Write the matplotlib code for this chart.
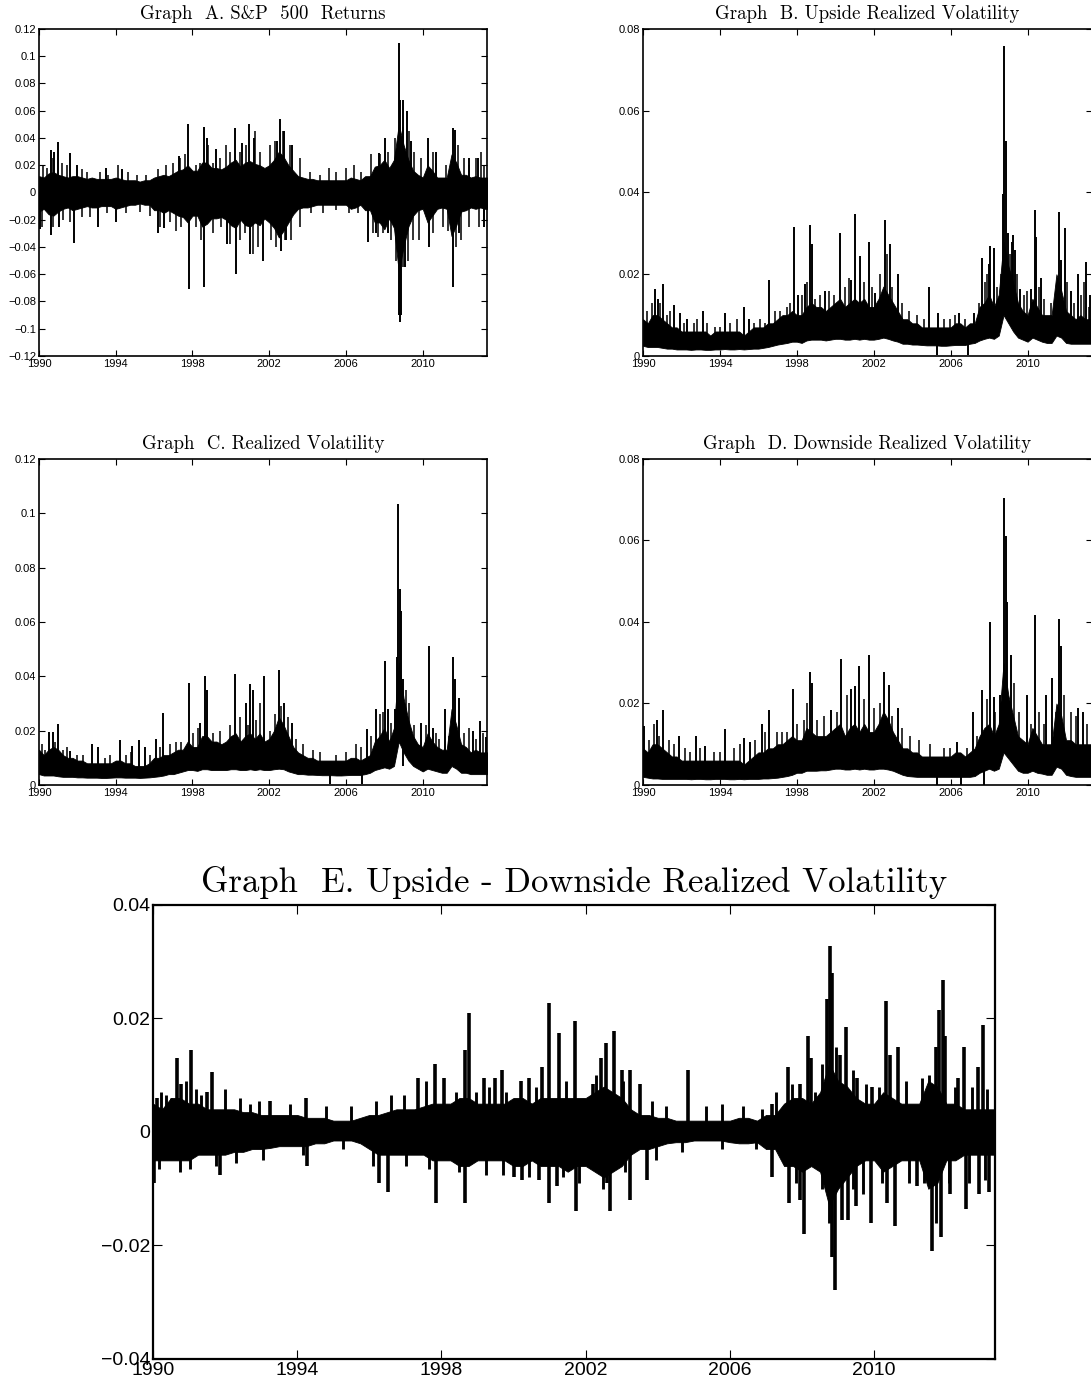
import numpy as np
import matplotlib
matplotlib.use("Agg")
import matplotlib.pyplot as plt
from matplotlib.ticker import FuncFormatter

# quarterly grid, 1990Q1 .. 2013Q3
quarters = np.arange(1990.0, 2013.51, 0.25)

# ---- Graph A: S&P 500 daily returns (dense band envelope + isolated spikes)
ret_hi = [0.012, 0.011, 0.014, 0.015, 0.013, 0.012, 0.011, 0.012,
          0.012, 0.011, 0.010, 0.011, 0.010, 0.010, 0.010, 0.010,
          0.011, 0.010, 0.009, 0.009, 0.009, 0.008, 0.009, 0.009,
          0.011, 0.012, 0.013, 0.012, 0.014, 0.016, 0.017, 0.020,
          0.016, 0.016, 0.022, 0.022, 0.018, 0.018, 0.017, 0.019,
          0.022, 0.024, 0.019, 0.022, 0.023, 0.021, 0.020, 0.018,
          0.020, 0.024, 0.030, 0.026, 0.020, 0.016, 0.012, 0.011,
          0.010, 0.010, 0.009, 0.009, 0.009, 0.009, 0.009, 0.009,
          0.009, 0.011, 0.010, 0.009, 0.012, 0.012, 0.019, 0.020,
          0.024, 0.018, 0.024, 0.050, 0.035, 0.024, 0.016, 0.013,
          0.011, 0.020, 0.016, 0.011, 0.011, 0.011, 0.028, 0.022,
          0.013, 0.013, 0.011, 0.012, 0.011, 0.011, 0.011]
ret_lo = [-0.014, -0.012, -0.016, -0.017, -0.014, -0.012, -0.011, -0.013,
          -0.012, -0.011, -0.010, -0.011, -0.011, -0.010, -0.010, -0.010,
          -0.012, -0.011, -0.010, -0.009, -0.009, -0.008, -0.009, -0.009,
          -0.013, -0.013, -0.015, -0.013, -0.015, -0.017, -0.018, -0.022,
          -0.017, -0.017, -0.025, -0.023, -0.019, -0.019, -0.018, -0.020,
          -0.024, -0.026, -0.020, -0.024, -0.025, -0.022, -0.024, -0.019,
          -0.022, -0.026, -0.033, -0.028, -0.022, -0.016, -0.012, -0.011,
          -0.011, -0.010, -0.009, -0.009, -0.009, -0.009, -0.009, -0.009,
          -0.009, -0.012, -0.011, -0.009, -0.013, -0.013, -0.022, -0.022,
          -0.027, -0.019, -0.026, -0.058, -0.040, -0.025, -0.017, -0.013,
          -0.012, -0.022, -0.017, -0.012, -0.011, -0.012, -0.032, -0.024,
          -0.014, -0.013, -0.011, -0.012, -0.011, -0.012, -0.012]
ret_spikes = [(1990.05, -0.027), (1990.60, 0.031), (1990.65, -0.031), (1990.80, 0.030),
              (1991.00, 0.037), (1991.05, -0.025), (1991.60, 0.029), (1991.85, -0.037),
              (1992.00, 0.020), (1993.10, -0.025), (1993.50, 0.018), (1994.00, -0.022),
              (1994.30, 0.017), (1996.20, -0.030), (1996.50, -0.026), (1997.30, 0.027),
              (1997.78, 0.050), (1997.80, -0.071), (1998.60, -0.069), (1998.62, 0.048),
              (1998.75, 0.040), (1999.20, 0.032), (1999.80, -0.038), (2000.20, 0.047),
              (2000.25, -0.060), (2000.60, 0.036), (2000.95, 0.050), (2001.00, -0.045),
              (2001.20, 0.040), (2001.70, -0.050), (2002.40, 0.038), (2002.55, 0.054),
              (2002.60, -0.043), (2002.75, 0.045), (2002.85, -0.035), (2003.20, 0.035),
              (2007.15, -0.036), (2007.55, -0.030), (2007.70, 0.029), (2008.05, 0.040),
              (2008.20, -0.030), (2008.60, 0.030), (2008.76, -0.090), (2008.78, 0.110),
              (2008.80, -0.095), (2008.84, 0.068), (2008.88, -0.090), (2008.95, 0.068),
              (2009.10, -0.055), (2009.20, 0.060), (2009.40, 0.038), (2010.30, 0.040),
              (2010.35, -0.040), (2010.70, 0.030), (2011.56, 0.047), (2011.58, -0.069),
              (2011.68, 0.046), (2011.90, -0.030), (2012.40, 0.025), (2012.90, 0.025),
              (2013.20, -0.025)]
ret_minor = [(1990.23, 0.020), (1990.40, 0.018), (1990.75, 0.025), (1991.18, 0.022),
             (1991.44, 0.020), (1992.22, 0.017), (1992.52, 0.015), (1993.17, 0.015),
             (1993.61, 0.013), (1994.13, 0.020), (1994.65, 0.015), (1995.09, 0.013),
             (1995.60, 0.013), (1996.21, 0.017), (1996.64, 0.020), (1996.99, 0.022),
             (1997.34, 0.025), (1997.60, 0.028), (1998.20, 0.020), (1998.38, 0.022),
             (1998.81, 0.035), (1999.07, 0.022), (1999.42, 0.025), (1999.77, 0.035),
             (1999.94, 0.030), (2000.46, 0.030), (2000.81, 0.035), (2001.24, 0.045),
             (2001.50, 0.030), (2002.02, 0.035), (2002.28, 0.038), (2002.71, 0.045),
             (2003.06, 0.035), (2003.58, 0.025), (2004.10, 0.015), (2004.62, 0.013),
             (2005.14, 0.018), (2005.49, 0.015), (2006.01, 0.018), (2006.44, 0.020),
             (2006.79, 0.015), (2007.31, 0.028), (2007.75, 0.028), (2008.18, 0.030),
             (2008.53, 0.040), (2008.96, 0.048), (2009.31, 0.045), (2009.57, 0.030),
             (2009.91, 0.025), (2010.52, 0.030), (2010.69, 0.022), (2011.21, 0.020),
             (2011.82, 0.035), (2012.17, 0.025), (2012.43, 0.020), (2012.78, 0.025),
             (2013.04, 0.030), (2013.21, 0.020),
             (1990.14, -0.025), (1990.75, -0.025), (1991.27, -0.020), (1991.61, -0.022),
             (1992.22, -0.018), (1992.65, -0.018), (1993.52, -0.015), (1994.56, -0.015),
             (1995.26, -0.014), (1995.78, -0.017), (1996.30, -0.025), (1996.82, -0.022),
             (1997.16, -0.028), (1997.42, -0.025), (1998.20, -0.025), (1998.46, -0.035),
             (1999.07, -0.030), (1999.51, -0.025), (1999.94, -0.038), (2000.46, -0.035),
             (2000.72, -0.030), (2001.15, -0.045), (2001.41, -0.040), (2002.11, -0.035),
             (2002.37, -0.040), (2002.80, -0.035), (2003.15, -0.035), (2003.58, -0.025),
             (2004.19, -0.015), (2004.80, -0.015), (2005.49, -0.013), (2006.18, -0.015),
             (2006.62, -0.015), (2007.40, -0.030), (2007.66, -0.033), (2007.92, -0.030),
             (2008.35, -0.035), (2008.61, -0.050), (2008.96, -0.055), (2009.22, -0.050),
             (2009.48, -0.035), (2009.83, -0.035), (2010.52, -0.030), (2011.04, -0.025),
             (2011.30, -0.028), (2011.73, -0.040), (2011.99, -0.035), (2012.43, -0.025),
             (2012.95, -0.025), (2013.21, -0.020)]

# ---- Graph B: upside realized volatility
up_hi = [0.009, 0.008, 0.010, 0.010, 0.009, 0.008, 0.007, 0.007,
         0.006, 0.006, 0.006, 0.006, 0.006, 0.006, 0.005, 0.006,
         0.006, 0.006, 0.006, 0.006, 0.006, 0.005, 0.006, 0.007,
         0.007, 0.007, 0.008, 0.008, 0.009, 0.010, 0.010, 0.011,
         0.010, 0.010, 0.012, 0.013, 0.012, 0.012, 0.011, 0.012,
         0.013, 0.014, 0.012, 0.013, 0.014, 0.013, 0.014, 0.012,
         0.012, 0.014, 0.017, 0.015, 0.013, 0.011, 0.009, 0.009,
         0.008, 0.008, 0.007, 0.007, 0.007, 0.007, 0.007, 0.007,
         0.007, 0.008, 0.008, 0.007, 0.008, 0.008, 0.012, 0.013,
         0.015, 0.012, 0.015, 0.028, 0.022, 0.018, 0.013, 0.011,
         0.010, 0.014, 0.012, 0.010, 0.010, 0.010, 0.020, 0.016,
         0.011, 0.010, 0.009, 0.010, 0.009, 0.009, 0.009]
up_lo = [0.0025, 0.0022, 0.0022, 0.0022, 0.0020, 0.0018, 0.0018, 0.0016,
         0.0016, 0.0016, 0.0015, 0.0016, 0.0016, 0.0015, 0.0015, 0.0016,
         0.0016, 0.0017, 0.0016, 0.0016, 0.0017, 0.0016, 0.0017, 0.0018,
         0.0018, 0.0020, 0.0022, 0.0025, 0.0028, 0.0030, 0.0032, 0.0035,
         0.0035, 0.0032, 0.0038, 0.0040, 0.0040, 0.0040, 0.0038, 0.0040,
         0.0042, 0.0042, 0.0040, 0.0040, 0.0042, 0.0040, 0.0042, 0.0040,
         0.0040, 0.0042, 0.0045, 0.0042, 0.0038, 0.0035, 0.0030, 0.0030,
         0.0028, 0.0028, 0.0027, 0.0026, 0.0026, 0.0026, 0.0025, 0.0025,
         0.0026, 0.0027, 0.0027, 0.0027, 0.0030, 0.0032, 0.0038, 0.0042,
         0.0045, 0.0042, 0.0050, 0.0100, 0.0080, 0.0060, 0.0045, 0.0040,
         0.0035, 0.0045, 0.0040, 0.0035, 0.0032, 0.0032, 0.0050, 0.0045,
         0.0032, 0.0030, 0.0030, 0.0030, 0.0030, 0.0030, 0.0030]
up_spikes = [(1990.64, 0.0165), (1990.78, 0.0140), (1991.04, 0.0175), (1991.63, 0.0125),
             (1991.91, 0.0105), (1992.29, 0.0090), (1993.12, 0.0110), (1994.25, 0.0105),
             (1995.24, 0.0120), (1995.52, 0.0090), (1996.54, 0.0185), (1997.84, 0.0315),
             (1998.05, 0.0150), (1998.45, 0.0175), (1998.71, 0.0320), (1998.79, 0.0275),
             (1999.49, 0.0160), (2000.27, 0.0300), (2000.82, 0.0185), (2001.05, 0.0348),
             (2001.27, 0.0245), (2001.74, 0.0278), (2002.09, 0.0155), (2002.58, 0.0333),
             (2002.82, 0.0275), (2003.25, 0.0200), (2004.87, 0.0170), (2005.33, 0.0105),
             (2006.43, 0.0105), (2007.21, 0.0105), (2007.64, 0.0240), (2007.99, 0.0225),
             (2008.07, 0.0270), (2008.25, 0.0265), (2008.73, 0.0397), (2008.79, 0.0758),
             (2008.87, 0.0525), (2008.98, 0.0300), (2009.17, 0.0280), (2009.22, 0.0296),
             (2009.32, 0.0260), (2009.62, 0.0165), (2010.16, 0.0165), (2010.38, 0.0357),
             (2010.45, 0.0290), (2010.71, 0.0190), (2011.63, 0.0353), (2011.75, 0.0235),
             (2011.93, 0.0314), (2012.24, 0.0160), (2012.64, 0.0200), (2013.05, 0.0230),
             (2013.23, 0.0150)]
up_minor = [(1990.21, 0.011), (1990.47, 0.013), (1990.90, 0.013), (1991.25, 0.010),
            (1991.42, 0.011), (1992.12, 0.008), (1992.64, 0.008), (1992.81, 0.009),
            (1993.33, 0.008), (1993.76, 0.007), (1994.02, 0.007), (1994.54, 0.008),
            (1994.89, 0.009), (1995.76, 0.008), (1996.11, 0.009), (1996.37, 0.008),
            (1996.89, 0.011), (1997.15, 0.011), (1997.49, 0.012), (1997.67, 0.013),
            (1998.27, 0.015), (1998.53, 0.018), (1998.97, 0.014), (1999.23, 0.015),
            (1999.66, 0.016), (1999.92, 0.015), (2000.53, 0.017), (2000.70, 0.019),
            (2001.48, 0.018), (2001.92, 0.017), (2002.35, 0.020), (2002.70, 0.025),
            (2002.96, 0.017), (2003.48, 0.013), (2003.82, 0.011), (2004.26, 0.010),
            (2004.61, 0.009), (2005.65, 0.009), (2005.99, 0.009), (2006.25, 0.010),
            (2006.77, 0.009), (2007.47, 0.013), (2007.81, 0.018), (2007.90, 0.020),
            (2008.42, 0.017), (2008.60, 0.020), (2009.08, 0.025), (2009.46, 0.020),
            (2009.81, 0.015), (2009.98, 0.016), (2010.59, 0.017), (2010.85, 0.014),
            (2011.20, 0.013), (2011.46, 0.015), (2012.06, 0.018), (2012.41, 0.013),
            (2012.76, 0.015), (2012.93, 0.018), (2013.19, 0.012)]
up_dips = [(2005.30, 0.0003), (2006.90, 0.0003)]

# ---- Graph C: realized volatility
rv_hi = [0.013, 0.011, 0.013, 0.014, 0.013, 0.011, 0.010, 0.010,
         0.009, 0.009, 0.008, 0.008, 0.008, 0.008, 0.008, 0.008,
         0.009, 0.009, 0.008, 0.008, 0.007, 0.007, 0.007, 0.008,
         0.010, 0.010, 0.011, 0.011, 0.012, 0.013, 0.013, 0.016,
         0.014, 0.014, 0.018, 0.018, 0.016, 0.016, 0.015, 0.016,
         0.018, 0.019, 0.016, 0.018, 0.019, 0.017, 0.019, 0.016,
         0.017, 0.020, 0.025, 0.022, 0.018, 0.014, 0.012, 0.011,
         0.010, 0.010, 0.009, 0.009, 0.009, 0.009, 0.009, 0.009,
         0.009, 0.010, 0.010, 0.009, 0.010, 0.011, 0.016, 0.018,
         0.021, 0.016, 0.021, 0.045, 0.032, 0.024, 0.018, 0.015,
         0.014, 0.019, 0.016, 0.014, 0.013, 0.013, 0.028, 0.022,
         0.015, 0.014, 0.012, 0.013, 0.012, 0.012, 0.012]
rv_lo = [0.0040, 0.0035, 0.0035, 0.0035, 0.0032, 0.0030, 0.0030, 0.0030,
         0.0028, 0.0028, 0.0027, 0.0027, 0.0027, 0.0026, 0.0026, 0.0027,
         0.0028, 0.0028, 0.0027, 0.0027, 0.0027, 0.0026, 0.0027, 0.0028,
         0.0030, 0.0032, 0.0035, 0.0040, 0.0040, 0.0045, 0.0050, 0.0055,
         0.0055, 0.0052, 0.0058, 0.0058, 0.0055, 0.0055, 0.0055, 0.0055,
         0.0058, 0.0058, 0.0055, 0.0055, 0.0058, 0.0055, 0.0058, 0.0055,
         0.0055, 0.0058, 0.0060, 0.0058, 0.0050, 0.0045, 0.0040, 0.0040,
         0.0038, 0.0038, 0.0037, 0.0036, 0.0036, 0.0036, 0.0035, 0.0035,
         0.0036, 0.0037, 0.0037, 0.0037, 0.0040, 0.0045, 0.0055, 0.0060,
         0.0065, 0.0060, 0.0070, 0.0160, 0.0120, 0.0090, 0.0070, 0.0060,
         0.0050, 0.0060, 0.0055, 0.0050, 0.0045, 0.0045, 0.0070, 0.0060,
         0.0045, 0.0045, 0.0040, 0.0040, 0.0040, 0.0040, 0.0040]
rv_spikes = [(1990.54, 0.0195), (1990.75, 0.0195), (1991.01, 0.0225), (1991.61, 0.0125),
             (1992.74, 0.0150), (1993.09, 0.0140), (1994.22, 0.0165), (1994.86, 0.0145),
             (1995.22, 0.0165), (1995.52, 0.0140), (1996.12, 0.0170), (1996.47, 0.0265),
             (1997.81, 0.0375), (1998.41, 0.0230), (1998.64, 0.0400), (1998.73, 0.0350),
             (2000.24, 0.0410), (2000.77, 0.0300), (2000.98, 0.0370), (2001.15, 0.0350),
             (2001.71, 0.0400), (2002.52, 0.0425), (2002.77, 0.0300), (2003.20, 0.0230),
             (2007.09, 0.0205), (2007.57, 0.0280), (2008.04, 0.0455), (2008.18, 0.0280),
             (2008.53, 0.0280), (2008.66, 0.0470), (2008.73, 0.1035), (2008.79, 0.0720),
             (2008.87, 0.0640), (2008.99, 0.0390), (2009.91, 0.0230), (2010.35, 0.0510),
             (2010.52, 0.0210), (2011.18, 0.0280), (2011.60, 0.0470), (2011.70, 0.0390),
             (2011.91, 0.0320), (2012.60, 0.0200), (2013.00, 0.0235), (2013.30, 0.0175)]
rv_minor = [(1990.14, 0.015), (1990.31, 0.013), (1990.83, 0.016), (1991.27, 0.013),
            (1991.44, 0.014), (1991.96, 0.011), (1992.31, 0.011), (1993.43, 0.010),
            (1993.69, 0.011), (1994.56, 0.011), (1994.82, 0.012), (1995.78, 0.011),
            (1996.30, 0.014), (1996.82, 0.015), (1997.16, 0.016), (1997.42, 0.016),
            (1998.03, 0.019), (1998.29, 0.021), (1999.07, 0.019), (1999.42, 0.020),
            (1999.94, 0.022), (2000.46, 0.025), (2000.89, 0.022), (2001.33, 0.024),
            (2001.50, 0.030), (2002.02, 0.020), (2002.28, 0.026), (2002.63, 0.029),
            (2002.97, 0.025), (2003.41, 0.017), (2003.76, 0.015), (2004.28, 0.013),
            (2004.62, 0.012), (2005.49, 0.011), (2006.01, 0.012), (2006.53, 0.015),
            (2006.79, 0.014), (2007.31, 0.018), (2007.75, 0.026), (2007.92, 0.027),
            (2008.35, 0.023), (2009.13, 0.035), (2009.31, 0.030), (2009.57, 0.022),
            (2010.17, 0.022), (2010.69, 0.019), (2010.87, 0.017), (2011.39, 0.018),
            (2012.17, 0.019), (2012.43, 0.021), (2012.78, 0.017), (2013.12, 0.019)]
rv_dips = [(2005.18, 0.0003), (2006.84, 0.0003), (2008.95, 0.0070)]

# ---- Graph D: downside realized volatility
dn_hi = [0.009, 0.008, 0.010, 0.010, 0.009, 0.008, 0.007, 0.007,
         0.006, 0.006, 0.006, 0.006, 0.006, 0.006, 0.006, 0.006,
         0.006, 0.006, 0.006, 0.006, 0.006, 0.005, 0.006, 0.007,
         0.008, 0.008, 0.009, 0.009, 0.010, 0.010, 0.011, 0.012,
         0.011, 0.011, 0.014, 0.013, 0.012, 0.012, 0.012, 0.013,
         0.014, 0.015, 0.012, 0.014, 0.015, 0.013, 0.015, 0.013,
         0.013, 0.015, 0.018, 0.016, 0.013, 0.011, 0.009, 0.009,
         0.008, 0.008, 0.007, 0.007, 0.007, 0.007, 0.007, 0.007,
         0.007, 0.008, 0.008, 0.007, 0.008, 0.009, 0.012, 0.014,
         0.015, 0.012, 0.015, 0.030, 0.022, 0.017, 0.012, 0.011,
         0.010, 0.014, 0.012, 0.010, 0.010, 0.010, 0.020, 0.017,
         0.011, 0.011, 0.010, 0.010, 0.010, 0.010, 0.010]
dn_lo = [0.0020, 0.0018, 0.0016, 0.0016, 0.0015, 0.0015, 0.0015, 0.0015,
         0.0015, 0.0015, 0.0014, 0.0015, 0.0015, 0.0014, 0.0014, 0.0015,
         0.0015, 0.0015, 0.0014, 0.0014, 0.0015, 0.0014, 0.0015, 0.0015,
         0.0015, 0.0016, 0.0016, 0.0017, 0.0018, 0.0020, 0.0022, 0.0025,
         0.0030, 0.0030, 0.0035, 0.0035, 0.0035, 0.0036, 0.0036, 0.0038,
         0.0040, 0.0040, 0.0038, 0.0038, 0.0040, 0.0038, 0.0040, 0.0038,
         0.0038, 0.0040, 0.0040, 0.0038, 0.0035, 0.0030, 0.0025, 0.0022,
         0.0021, 0.0020, 0.0020, 0.0020, 0.0020, 0.0020, 0.0020, 0.0020,
         0.0020, 0.0020, 0.0020, 0.0020, 0.0020, 0.0022, 0.0030, 0.0035,
         0.0040, 0.0035, 0.0040, 0.0080, 0.0065, 0.0050, 0.0035, 0.0030,
         0.0030, 0.0035, 0.0030, 0.0028, 0.0025, 0.0025, 0.0045, 0.0040,
         0.0025, 0.0022, 0.0020, 0.0020, 0.0020, 0.0020, 0.0020]
dn_spikes = [(1990.03, 0.0145), (1990.73, 0.0160), (1991.04, 0.0185), (1991.86, 0.0120),
             (1992.78, 0.0120), (1993.24, 0.0095), (1994.25, 0.0138), (1995.27, 0.0115),
             (1995.55, 0.0105), (1996.19, 0.0150), (1996.54, 0.0185), (1997.81, 0.0235),
             (1998.71, 0.0278), (1998.79, 0.0250), (1999.78, 0.0185), (2000.30, 0.0308),
             (2000.84, 0.0235), (2001.01, 0.0242), (2001.24, 0.0292), (2001.74, 0.0320),
             (2002.52, 0.0278), (2002.78, 0.0245), (2003.25, 0.0190), (2006.34, 0.0105),
             (2007.17, 0.0180), (2007.64, 0.0232), (2008.07, 0.0400), (2008.25, 0.0215),
             (2008.56, 0.0220), (2008.77, 0.0705), (2008.86, 0.0610), (2008.94, 0.0450),
             (2009.15, 0.0320), (2009.95, 0.0222), (2010.38, 0.0418), (2010.94, 0.0222),
             (2011.25, 0.0262), (2011.63, 0.0408), (2011.75, 0.0340), (2012.62, 0.0188),
             (2012.90, 0.0178)]
dn_minor = [(1990.29, 0.011), (1990.56, 0.015), (1990.82, 0.012), (1991.34, 0.011),
            (1991.60, 0.010), (1992.20, 0.009), (1992.46, 0.008), (1992.98, 0.009),
            (1993.68, 0.008), (1994.02, 0.008), (1994.72, 0.009), (1995.06, 0.010),
            (1995.85, 0.011), (1996.37, 0.013), (1996.97, 0.013), (1997.23, 0.013),
            (1997.49, 0.013), (1998.01, 0.015), (1998.36, 0.016), (1998.53, 0.020),
            (1999.05, 0.016), (1999.40, 0.017), (2000.10, 0.018), (2000.62, 0.022),
            (2001.48, 0.021), (2002.00, 0.019), (2002.35, 0.020), (2002.96, 0.017),
            (2003.48, 0.014), (2003.91, 0.012), (2004.35, 0.011), (2004.95, 0.010),
            (2005.65, 0.009), (2005.99, 0.009), (2006.86, 0.009), (2007.38, 0.012),
            (2007.90, 0.021), (2008.33, 0.018), (2008.60, 0.020), (2009.29, 0.025),
            (2009.55, 0.018), (2010.16, 0.015), (2010.59, 0.018), (2010.85, 0.015),
            (2011.46, 0.018), (2011.89, 0.022), (2012.24, 0.018), (2012.50, 0.017),
            (2013.11, 0.015)]
dn_dips = [(2005.30, 0.0), (2006.52, 0.0), (2007.73, 0.0)]

# ---- Graph E: upside minus downside realized volatility
diff_hi = [0.005, 0.004, 0.006, 0.006, 0.005, 0.005, 0.004, 0.004,
           0.004, 0.004, 0.0035, 0.0035, 0.003, 0.003, 0.003, 0.003,
           0.003, 0.0025, 0.0025, 0.0025, 0.002, 0.002, 0.002, 0.0025,
           0.003, 0.003, 0.0035, 0.004, 0.004, 0.004, 0.0045, 0.005,
           0.005, 0.005, 0.006, 0.006, 0.005, 0.005, 0.005, 0.005,
           0.006, 0.006, 0.005, 0.006, 0.006, 0.006, 0.006, 0.006,
           0.006, 0.007, 0.008, 0.007, 0.006, 0.004, 0.003, 0.003,
           0.0025, 0.0025, 0.002, 0.002, 0.002, 0.002, 0.002, 0.002,
           0.002, 0.0025, 0.0025, 0.002, 0.003, 0.003, 0.005, 0.006,
           0.006, 0.005, 0.007, 0.012, 0.009, 0.008, 0.006, 0.005,
           0.005, 0.007, 0.006, 0.005, 0.005, 0.005, 0.009, 0.008,
           0.005, 0.005, 0.004, 0.004, 0.004, 0.004, 0.004]
diff_lo = [-0.005, -0.005, -0.005, -0.005, -0.005, -0.004, -0.004, -0.004,
           -0.004, -0.0035, -0.0035, -0.003, -0.003, -0.0028, -0.0025, -0.0025,
           -0.0025, -0.0025, -0.002, -0.002, -0.0015, -0.0015, -0.0015, -0.002,
           -0.003, -0.004, -0.004, -0.004, -0.004, -0.004, -0.004, -0.005,
           -0.005, -0.005, -0.006, -0.006, -0.005, -0.005, -0.005, -0.005,
           -0.006, -0.006, -0.005, -0.006, -0.006, -0.006, -0.007, -0.006,
           -0.006, -0.007, -0.008, -0.007, -0.006, -0.004, -0.003, -0.003,
           -0.0025, -0.002, -0.0018, -0.0018, -0.0015, -0.0015, -0.0015, -0.0015,
           -0.0018, -0.002, -0.002, -0.0018, -0.003, -0.003, -0.006, -0.006,
           -0.007, -0.006, -0.007, -0.013, -0.010, -0.008, -0.006, -0.005,
           -0.005, -0.007, -0.006, -0.005, -0.005, -0.005, -0.010, -0.009,
           -0.005, -0.005, -0.004, -0.004, -0.004, -0.004, -0.004]
diff_spikes = [(1990.03, -0.0090), (1990.11, 0.0060), (1990.66, 0.0130), (1990.78, 0.0085),
               (1991.04, 0.0145), (1991.50, 0.0070), (1991.64, 0.0105), (1991.87, -0.0075),
               (1993.25, 0.0055), (1994.25, 0.0060), (1994.27, -0.0060), (1996.26, -0.0090),
               (1996.51, -0.0105), (1997.34, 0.0095), (1997.82, 0.0120), (1997.84, -0.0125),
               (1998.08, 0.0095), (1998.64, -0.0125), (1998.66, 0.0145), (1998.77, 0.0210),
               (1999.17, 0.0095), (1999.49, 0.0095), (1999.68, 0.0110), (2000.02, -0.0080),
               (2000.20, 0.0090), (2000.22, -0.0085), (2000.42, 0.0095), (2000.71, -0.0085),
               (2000.78, 0.0115), (2000.97, 0.0228), (2000.99, -0.0125), (2001.19, -0.0095),
               (2001.27, 0.0175), (2001.71, 0.0195), (2001.73, -0.0140), (2002.19, 0.0085),
               (2002.42, 0.0130), (2002.56, 0.0156), (2002.58, -0.0090), (2002.68, -0.0140),
               (2002.79, 0.0178), (2003.00, 0.0110), (2003.22, 0.0110), (2003.24, -0.0120),
               (2003.51, 0.0085), (2003.71, -0.0085), (2004.85, 0.0110), (2007.16, 0.0050),
               (2007.17, -0.0080), (2007.62, 0.0115), (2007.64, -0.0125), (2007.93, 0.0085),
               (2007.95, -0.0120), (2008.05, -0.0180), (2008.17, 0.0170), (2008.26, 0.0130),
               (2008.68, 0.0235), (2008.78, 0.0328), (2008.82, 0.0280), (2008.84, -0.0220),
               (2008.91, -0.0278), (2009.05, 0.0135), (2009.12, -0.0155), (2009.21, 0.0185),
               (2009.28, -0.0155), (2009.49, -0.0130), (2009.53, 0.0095), (2009.90, -0.0160),
               (2009.93, 0.0080), (2010.34, 0.0230), (2010.36, -0.0125), (2010.45, 0.0135),
               (2010.59, -0.0165), (2010.66, 0.0150), (2011.19, -0.0095), (2011.61, -0.0210),
               (2011.70, 0.0150), (2011.79, 0.0215), (2011.86, -0.0185), (2011.91, 0.0267),
               (2011.96, 0.0170), (2012.11, -0.0110), (2012.33, 0.0095), (2012.49, 0.0150),
               (2012.55, -0.0135), (2012.88, 0.0115), (2012.90, -0.0110), (2013.01, 0.0188),
               (2013.18, -0.0105)]
diff_minor = [(1990.23, 0.0070), (1990.37, 0.0065), (1990.51, 0.0060), (1990.92, 0.0090),
              (1991.20, 0.0075), (1991.34, 0.0065), (1991.99, 0.0075), (1992.40, 0.0060),
              (1992.68, 0.0050), (1992.95, 0.0055), (1993.79, 0.0050), (1994.80, 0.0045),
              (1995.49, 0.0045), (1996.19, 0.0055), (1996.60, 0.0065), (1996.97, 0.0065),
              (1997.57, 0.0090), (1998.40, 0.0070), (1998.96, 0.0070), (1999.33, 0.0080),
              (1999.79, 0.0070), (2000.62, 0.0080), (2001.45, 0.0090), (2002.28, 0.0100),
              (2003.02, 0.0090), (2003.85, 0.0055), (2004.22, 0.0045), (2005.33, 0.0045),
              (2005.79, 0.0050), (2006.35, 0.0045), (2006.90, 0.0040), (2007.27, 0.0070),
              (2007.73, 0.0085), (2008.37, 0.0070), (2008.56, 0.0120), (2008.93, 0.0150),
              (2009.40, 0.0110), (2009.76, 0.0085), (2010.13, 0.0080), (2010.87, 0.0090),
              (2011.33, 0.0095), (2011.51, 0.0100), (2012.25, 0.0080), (2012.71, 0.0080),
              (2013.13, 0.0075),
              (1990.18, -0.0065), (1990.74, -0.0070), (1991.02, -0.0065), (1991.75, -0.0060),
              (1992.31, -0.0055), (1993.05, -0.0050), (1994.16, -0.0040), (1995.26, -0.0030),
              (1996.09, -0.0060), (1997.02, -0.0060), (1997.66, -0.0065), (1998.49, -0.0070),
              (1999.23, -0.0075), (1999.70, -0.0075), (2000.43, -0.0080), (2001.36, -0.0080),
              (2001.82, -0.0090), (2002.47, -0.0100), (2003.10, -0.0070), (2003.94, -0.0050),
              (2004.67, -0.0035), (2005.79, -0.0030), (2006.71, -0.0030), (2007.82, -0.0090),
              (2008.56, -0.0100), (2008.75, -0.0160), (2009.40, -0.0100), (2009.68, -0.0110),
              (2010.23, -0.0090), (2010.96, -0.0090), (2011.38, -0.0090), (2011.70, -0.0160),
              (2012.07, -0.0090), (2012.62, -0.0090), (2013.08, -0.0085)]

year_ticks = [1990, 1994, 1998, 2002, 2006, 2010]
X_END = 2013.35

TICK_FONT = ["Liberation Sans", "DejaVu Sans"]
TITLE_FONT = ["cmr10", "DejaVu Serif"]


def fmt_tick(v, _pos=None):
    v = round(v, 6)
    if v == 0:
        return "0"
    return f"{v:g}".replace("-", "\u2212")


def style(ax, title, yticks, tsize, lsize, ticklen, spine_lw, title_pad):
    ax.set_xlim(1990, X_END)
    ax.set_ylim(yticks[0], yticks[-1])
    ax.set_xticks(year_ticks)
    ax.set_yticks(yticks)
    ax.yaxis.set_major_formatter(FuncFormatter(fmt_tick))
    ax.tick_params(direction="in", top=True, right=True, length=ticklen,
                   width=0.8, labelsize=lsize, pad=2)
    for lab in ax.get_xticklabels() + ax.get_yticklabels():
        lab.set_family(TICK_FONT)
    for sp in ax.spines.values():
        sp.set_linewidth(spine_lw)
        sp.set_zorder(5)
    ax.set_title(title, fontsize=tsize, family=TITLE_FONT, pad=title_pad)


def split(pairs):
    return np.array([p[0] for p in pairs]), np.array([p[1] for p in pairs])


def draw_series(ax, hi, lo, spikes, minor, lw, dips=None, from_zero=True):
    ax.fill_between(quarters, lo, hi, color="black", linewidth=0.6, edgecolor="black")
    for group, width in ((minor, lw * 0.8), (spikes, lw)):
        st, sv = split(group)
        if from_zero:
            base = np.zeros_like(sv)
        else:
            base = np.interp(st, quarters, lo) + 0.001
        ax.vlines(st, base, sv, color="black", linewidth=width)
    if dips:
        dt, dv = split(dips)
        ax.vlines(dt, dv, np.interp(dt, quarters, lo) + 0.001, color="black", linewidth=lw)


fig = plt.figure(figsize=(10.91, 13.93), dpi=100)

ax_a = fig.add_axes([0.03575, 0.74444, 0.41064, 0.23475])
draw_series(ax_a, ret_hi, ret_lo, ret_spikes, ret_minor, 1.4)
style(ax_a, "Graph  A. S&P  500  Returns", np.round(np.arange(-0.12, 0.121, 0.02), 2),
      13.5, 8, 4, 1.2, 7.5)

ax_b = fig.add_axes([0.58937, 0.74444, 0.41155, 0.23475])
draw_series(ax_b, up_hi, up_lo, up_spikes, up_minor, 1.4, dips=up_dips, from_zero=False)
style(ax_b, "Graph  B. Upside Realized Volatility", [0, 0.02, 0.04, 0.06, 0.08],
      13.5, 8, 4, 1.2, 7.5)

ax_c = fig.add_axes([0.03575, 0.43647, 0.41064, 0.23403])
draw_series(ax_c, rv_hi, rv_lo, rv_spikes, rv_minor, 1.4, dips=rv_dips, from_zero=False)
style(ax_c, "Graph  C. Realized Volatility", [0, 0.02, 0.04, 0.06, 0.08, 0.1, 0.12],
      13.5, 8, 4, 1.2, 7.5)

ax_d = fig.add_axes([0.58937, 0.43647, 0.41155, 0.23403])
draw_series(ax_d, dn_hi, dn_lo, dn_spikes, dn_minor, 1.4, dips=dn_dips, from_zero=False)
style(ax_d, "Graph  D. Downside Realized Volatility", [0, 0.02, 0.04, 0.06, 0.08],
      13.5, 8, 4, 1.2, 7.5)

ax_e = fig.add_axes([0.14024, 0.02441, 0.77177, 0.32592])
draw_series(ax_e, diff_hi, diff_lo, diff_spikes, diff_minor, 2.6)
style(ax_e, "Graph  E. Upside - Downside Realized Volatility", [-0.04, -0.02, 0, 0.02, 0.04],
      25, 14, 6.5, 1.6, 9.5)

fig.savefig("out.png", dpi=100)
